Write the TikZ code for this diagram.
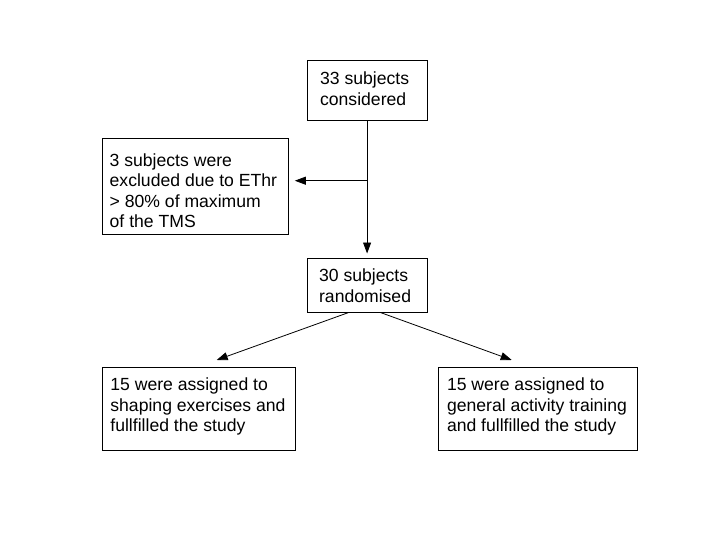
\documentclass[tikz,border=0pt]{standalone}
\usepackage{fontspec}
\setmainfont{Liberation Sans}
\usetikzlibrary{arrows.meta,calc}
\newcommand\bxt[5]{\parbox[t][#2][t]{#1}{\raggedright\leftskip=#3\rightskip=-60pt plus 1fil\fontsize{17.6}{20.6}\selectfont\rule{0pt}{#4}#5}}
\tikzset{
  bx/.style={draw, line width=0.8pt, inner sep=0pt, anchor=north west},
  arr/.style={draw, line width=0.8pt, -{Triangle[length=11pt,width=8pt]}},
}
\begin{document}
\begin{tikzpicture}[x=1pt,y=-1pt]
\useasboundingbox (0,0) rectangle (720,540);
\node[bx] (top) at (306.7,60) {\bxt{120pt}{60pt}{13pt}{24.5pt}{33 subjects\\considered}};
\node[bx] (left) at (102.3,138.3) {\bxt{186pt}{95.7pt}{7pt}{27.5pt}{3 subjects were\\excluded due to EThr\\> 80\% of maximum\\of the TMS}};
\node[bx] (mid) at (306.7,258) {\bxt{120pt}{53.7pt}{12pt}{23.5pt}{30 subjects\\randomised}};
\node[bx] (bl) at (102.3,366.7) {\bxt{192.7pt}{83.3pt}{7.7pt}{23.3pt}{15 were assigned to\\shaping exercises and\\fullfilled the study}};
\node[bx] (br) at (438.3,366.7) {\bxt{198.4pt}{83.3pt}{8.3pt}{23.3pt}{15 were assigned to\\general activity training\\and fullfilled the study}};
\coordinate (split) at (top.south |- 0,180.7);
\coordinate (dl) at ($(mid.south)+(-18.4,0)$);
\coordinate (dr) at ($(mid.south)+(13.3,0)$);
\coordinate (tl) at (216.7,360);
\coordinate (tr) at (511.7,360);
\draw[arr, shorten >=4.5pt] (top) -- (mid);
\draw[arr, shorten >=5.7pt] (split) -- (split -| left.east);
\draw[arr] (dl) -- (tl);
\draw[arr] (dr) -- (tr);
\end{tikzpicture}
\end{document}
